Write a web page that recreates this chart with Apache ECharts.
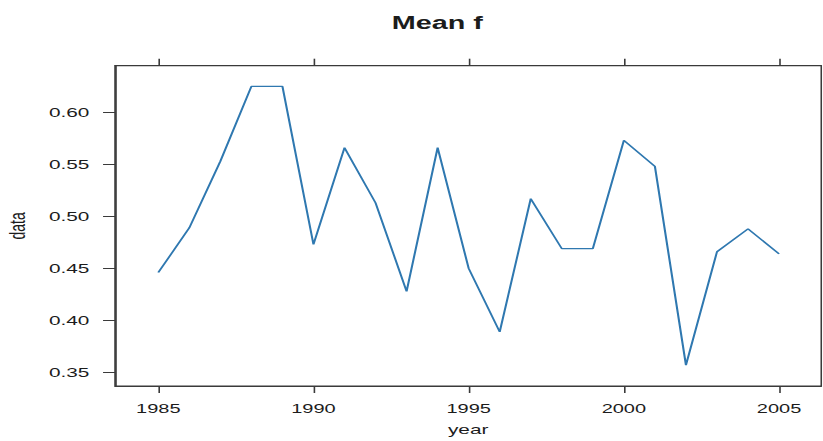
<!DOCTYPE html>
<html>
<head>
<meta charset="utf-8">
<script src="https://cdn.jsdelivr.net/npm/echarts@6/dist/echarts.min.js"></script>
<style>
  html, body { margin: 0; padding: 0; background: #ffffff; }
  /* the plot is laid out on a narrow canvas and widened horizontally */
  #chart {
    width: 514.4px;
    height: 441px;
    transform: scaleX(1.6);
    transform-origin: 0 0;
  }
</style>
</head>
<body>
<div id="chart"></div>
<script>
// Mean f by year
var years = [1985, 1986, 1987, 1988, 1989, 1990, 1991, 1992, 1993, 1994, 1995,
             1996, 1997, 1998, 1999, 2000, 2001, 2002, 2003, 2004, 2005];
var meanF = [0.446, 0.489, 0.553, 0.625, 0.625, 0.473, 0.566, 0.513, 0.428, 0.566, 0.450,
             0.389, 0.517, 0.469, 0.469, 0.573, 0.548, 0.357, 0.466, 0.488, 0.464];
var yearTicks = [1985, 1990, 1995, 2000, 2005];
var dataTicks = [0.35, 0.40, 0.45, 0.50, 0.55, 0.60];

var FONT = 'Liberation Sans, Arial, sans-serif';
var INK = '#1c1c1c';
var FRAME = '#3a3a3a';

var points = years.map(function (y, i) { return [y, meanF[i]]; });

var chart = echarts.init(document.getElementById('chart'), null, { renderer: 'svg' });

function xAxisBase(pos) {
  return {
    type: 'value',
    position: pos,
    min: 1983.607,
    max: 2006.36,
    splitLine: { show: false },
    axisLine: { show: true, onZero: false, lineStyle: { color: FRAME, width: 1 } },
    axisTick: {
      show: true, inside: false, length: 7,
      customValues: yearTicks,
      lineStyle: { color: FRAME, width: 1 }
    },
    axisLabel: {
      show: pos === 'bottom',
      customValues: yearTicks,
      margin: 16,
      color: INK,
      fontFamily: FONT,
      fontSize: 12.5,
      formatter: function (v) { return String(v); }
    }
  };
}

var bottomAxis = xAxisBase('bottom');
bottomAxis.name = 'year';
bottomAxis.nameLocation = 'middle';
bottomAxis.nameGap = 37;
bottomAxis.nameTextStyle = { color: INK, fontFamily: FONT, fontSize: 13 };

var topAxis = xAxisBase('top');

chart.setOption({
  animation: false,
  backgroundColor: '#ffffff',
  title: {
    text: 'Mean f',
    left: 244.8,
    top: 14,
    padding: 0,
    textStyle: { color: INK, fontFamily: FONT, fontSize: 18, fontWeight: 'bold' }
  },
  grid: {
    left: 71.9,
    right: 0.7,
    top: 65.7,
    bottom: 55,
    containLabel: false,
    outerBoundsMode: 'none',
    show: true,
    borderColor: FRAME,
    borderWidth: 1,
    backgroundColor: 'transparent'
  },
  xAxis: [bottomAxis, topAxis],
  yAxis: {
    type: 'value',
    min: 0.337,
    max: 0.6448,
    name: 'data',
    nameLocation: 'middle',
    nameGap: 54,
    nameRotate: 90,
    nameTextStyle: { color: INK, fontFamily: FONT, fontSize: 14 },
    splitLine: { show: false },
    axisLine: { show: true, onZero: false, lineStyle: { color: FRAME, width: 1 } },
    axisTick: {
      show: true, inside: false, length: 7.5,
      customValues: dataTicks,
      lineStyle: { color: FRAME, width: 1 }
    },
    axisLabel: {
      customValues: dataTicks,
      margin: 16,
      color: INK,
      fontFamily: FONT,
      fontSize: 13,
      formatter: function (v) { return v.toFixed(2); }
    }
  },
  series: [{
    type: 'line',
    data: points,
    showSymbol: false,
    symbol: 'none',
    lineStyle: { color: '#2f78b0', width: 1.3 }
  }]
});
</script>
</body>
</html>
